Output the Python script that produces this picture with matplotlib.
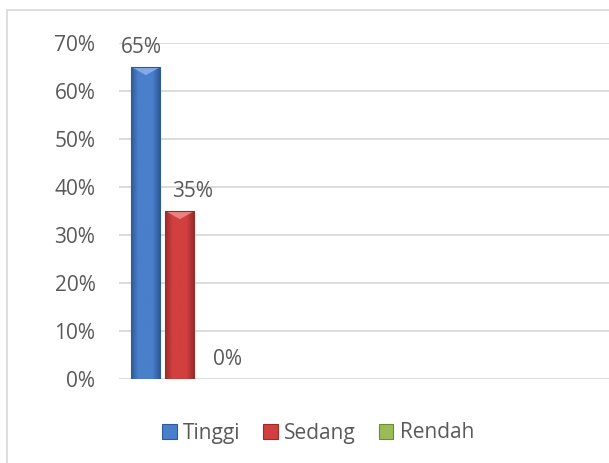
import numpy as np
import matplotlib
matplotlib.use("Agg")
import matplotlib.pyplot as plt
from matplotlib.colors import LinearSegmentedColormap
from matplotlib.patches import Polygon, Rectangle

# data
series = ['Tinggi', 'Sedang', 'Rendah']
values = [65, 35, 0]
colors = ['#4A7FCB', '#D23F3F', '#9BBB59']
dark = ['#2F5A98', '#9A2C2C', '#6E8A36']
light = ['#8CB4EC', '#F08C8C', '#C4DE8A']
yticks = [0, 10, 20, 30, 40, 50, 60, 70]
label_dx = [-3, 9, 10]   # label nudges (points)

plt.rcParams['font.family'] = ['Open Sans', 'DejaVu Sans']
txt = '#595959'
fs = 15

fig = plt.figure(figsize=(6.09, 4.63), dpi=100)
ax = fig.add_axes([119 / 609, 1 - 379 / 463, 1 - 119 / 609, (379 - 43) / 463])

# chart border
fig.add_artist(Rectangle((7 / 609, -0.1), 1.2, 1 - 10 / 463 + 0.1,
                         transform=fig.transFigure, fill=False,
                         edgecolor='#d9d9d9', linewidth=1.2))

width = 0.85
x = np.arange(len(series))
bars = ax.bar(x, values, width, color=colors, edgecolor='none', zorder=3,
              label=series)

# gradient / bevel look
for b, c, d, l in zip(bars, colors, dark, light):
    h = b.get_height()
    if h <= 0:
        continue
    x0, w = b.get_x(), b.get_width()
    cmap = LinearSegmentedColormap.from_list('g', [d, c, c, c, d])
    grad = np.linspace(0, 1, 64).reshape(1, -1)
    im = ax.imshow(grad, cmap=cmap, aspect='auto', extent=(x0, x0 + w, 0, h),
                   zorder=3)
    im.set_clip_path(b)
    bev = 1.7
    ax.add_patch(Polygon([(x0, h), (x0 + w, h), (x0 + w / 2, h - bev)],
                         closed=True, facecolor=l, edgecolor='none',
                         alpha=0.85, zorder=4))
    ax.add_patch(Rectangle((x0, 0), w, h, fill=False, edgecolor=d,
                           linewidth=0.8, zorder=5))

for b, v, dx in zip(bars, values, label_dx):
    ax.annotate(f'{v}%', (b.get_x() + b.get_width() / 2, v),
                xytext=(dx, 14), textcoords='offset points',
                ha='center', va='center', fontsize=fs, color=txt, zorder=6)

ax.set_xlim(-0.79, 13.62)
ax.set_ylim(0, 70)
ax.set_yticks(yticks)
ax.set_yticklabels([f'{t}%' for t in yticks])
ax.set_xticks([])
ax.tick_params(axis='y', length=0, pad=17, labelsize=fs, labelcolor=txt)
ax.grid(axis='y', color='#d9d9d9', linewidth=1.3, zorder=0)
ax.set_axisbelow(True)
for s in ax.spines.values():
    s.set_visible(False)
ax.set_facecolor('none')

handles = [Rectangle((0, 0), 1, 1, facecolor=c, edgecolor=d, linewidth=0.8)
           for c, d in zip(colors, dark)]
fig.legend(handles, series, loc='center', bbox_to_anchor=(318 / 609, 1 - 433 / 463),
           ncol=3, frameon=False, fontsize=fs, handlelength=0.7, handleheight=0.7,
           handletextpad=0.3, columnspacing=1.1, labelcolor=txt)

fig.savefig('out.png', dpi=100)
